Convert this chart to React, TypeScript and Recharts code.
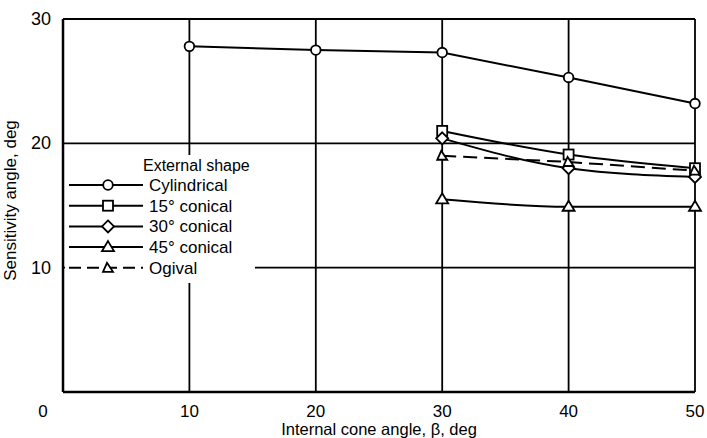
import { LineChart, Line, XAxis, YAxis, CartesianGrid } from 'recharts';

const angles = [10, 20, 30, 40, 50];
const cylindrical = [27.8, 27.5, 27.3, 25.3, 23.2];
const conical15 = [null, null, 21.0, 19.1, 18.0];
const conical30 = [null, null, 20.4, 18.0, 17.3];
const conical45 = [null, null, 15.5, 14.9, 14.9];
const ogival = [null, null, 19.0, 18.5, 17.8];

const xTicks = [0, 10, 20, 30, 40, 50];
const yTicks = [0, 10, 20, 30];

const data = angles.map((a, i) => ({
  angle: a,
  cylindrical: cylindrical[i],
  conical15: conical15[i],
  conical30: conical30[i],
  conical45: conical45[i],
  ogival: ogival[i],
}));

const FONT = '"Liberation Sans", Arial, sans-serif';

type Shape = 'circle' | 'square' | 'diamond' | 'triangle' | 'smalltri';

function marker(shape: Shape, cx: number, cy: number, key?: string | number) {
  const common = { fill: '#fff', stroke: '#000', strokeWidth: 1.8, key };
  if (shape === 'circle') return <circle {...common} cx={cx} cy={cy} r={4.8} />;
  if (shape === 'square')
    return <rect {...common} x={cx - 5} y={cy - 5} width={10} height={10} />;
  if (shape === 'diamond')
    return <path {...common} d={`M${cx},${cy - 6}L${cx + 6},${cy}L${cx},${cy + 6}L${cx - 6},${cy}Z`} />;
  if (shape === 'triangle')
    return <path {...common} d={`M${cx},${cy - 6}L${cx + 6},${cy + 4}L${cx - 6},${cy + 4}Z`} />;
  return <path {...common} d={`M${cx - 1},${cy - 5}L${cx + 5},${cy + 4}L${cx - 5},${cy + 4}Z`} />;
}

const dotFor = (shape: Shape) => (props: any) => {
  const { cx, cy, index } = props;
  if (cx == null || cy == null || props.value == null) return <g key={index} />;
  return marker(shape, cx, cy, index);
};

const legendItems: { label: string; shape: Shape; dashed?: boolean }[] = [
  { label: 'Cylindrical', shape: 'circle' },
  { label: '15° conical', shape: 'square' },
  { label: '30° conical', shape: 'diamond' },
  { label: '45° conical', shape: 'triangle' },
  { label: 'Ogival', shape: 'smalltri', dashed: true },
];

function ShapeLegend() {
  return (
    <div
      style={{
        position: 'absolute',
        left: 65,
        top: 155,
        width: 190,
        height: 128,
        background: '#fff',
        fontFamily: FONT,
      }}
    >
      <svg width={190} height={128} style={{ display: 'block' }}>
        <text x={78} y={16} fontSize={16} fill="#000">
          External shape
        </text>
        {legendItems.map((it, i) => {
          const y = 30 + i * 20.7;
          return (
            <g key={it.label}>
              <line
                x1={4}
                x2={78}
                y1={y}
                y2={y}
                stroke="#000"
                strokeWidth={2}
                strokeDasharray={it.dashed ? '12 6' : undefined}
              />
              {marker(it.shape, 43, y)}
              <text x={84} y={y + 6} fontSize={17} fill="#000">
                {it.label}
              </text>
            </g>
          );
        })}
      </svg>
    </div>
  );
}

const XTick = (props: any) => {
  const { x, y, payload } = props;
  const dx = payload.value === 0 ? -20 : 0;
  return (
    <text x={x + dx} y={y + 17} textAnchor="middle" fontSize={17} fontFamily={FONT} fill="#000">
      {payload.value}
    </text>
  );
};

const YTick = (props: any) => {
  const { x, y, payload } = props;
  if (payload.value === 0) return <g />;
  return (
    <text x={x - 4} y={y + 6} textAnchor="end" fontSize={18} fontFamily={FONT} fill="#000">
      {payload.value}
    </text>
  );
};

export default function App() {
  return (
    <div style={{ position: 'absolute', left: 0, top: 0, width: 707, height: 438, background: '#fff' }}>
      <LineChart
        width={707}
        height={438}
        data={data}
        margin={{ top: 19, right: 12, bottom: 0, left: 0 }}
      >
        <CartesianGrid stroke="#000" strokeWidth={1.8} />
        <XAxis
          dataKey="angle"
          type="number"
          domain={[0, 50]}
          ticks={xTicks}
          height={46}
          tick={<XTick />}
          tickLine={false}
          axisLine={{ stroke: '#000', strokeWidth: 2.5 }}
          label={{
            value: 'Internal cone angle, β, deg',
            position: 'insideBottom',
            offset: 3,
            style: { fontSize: 16.5, fontFamily: FONT, fill: '#000' },
          }}
        />
        <YAxis
          type="number"
          domain={[0, 30]}
          ticks={yTicks}
          width={63}
          tick={<YTick />}
          tickLine={false}
          axisLine={{ stroke: '#000', strokeWidth: 2.5 }}
          label={{
            value: 'Sensitivity angle, deg',
            angle: -90,
            position: 'insideLeft',
            offset: 10,
            dy: -5,
            style: { fontSize: 17, fontFamily: FONT, fill: '#000', textAnchor: 'middle' },
          }}
        />
        <Line
          dataKey="cylindrical"
          type="linear"
          stroke="#000"
          strokeWidth={2}
          dot={dotFor('circle')}
          activeDot={false}
          isAnimationActive={false}
        />
        <Line
          dataKey="conical15"
          type="monotone"
          stroke="#000"
          strokeWidth={2}
          dot={dotFor('square')}
          activeDot={false}
          isAnimationActive={false}
        />
        <Line
          dataKey="conical30"
          type="monotone"
          stroke="#000"
          strokeWidth={2}
          dot={dotFor('diamond')}
          activeDot={false}
          isAnimationActive={false}
        />
        <Line
          dataKey="conical45"
          type="monotone"
          stroke="#000"
          strokeWidth={2}
          dot={dotFor('triangle')}
          activeDot={false}
          isAnimationActive={false}
        />
        <Line
          dataKey="ogival"
          type="linear"
          stroke="#000"
          strokeWidth={2}
          strokeDasharray="14 7"
          dot={dotFor('smalltri')}
          activeDot={false}
          isAnimationActive={false}
        />
      </LineChart>
      <ShapeLegend />
    </div>
  );
}
